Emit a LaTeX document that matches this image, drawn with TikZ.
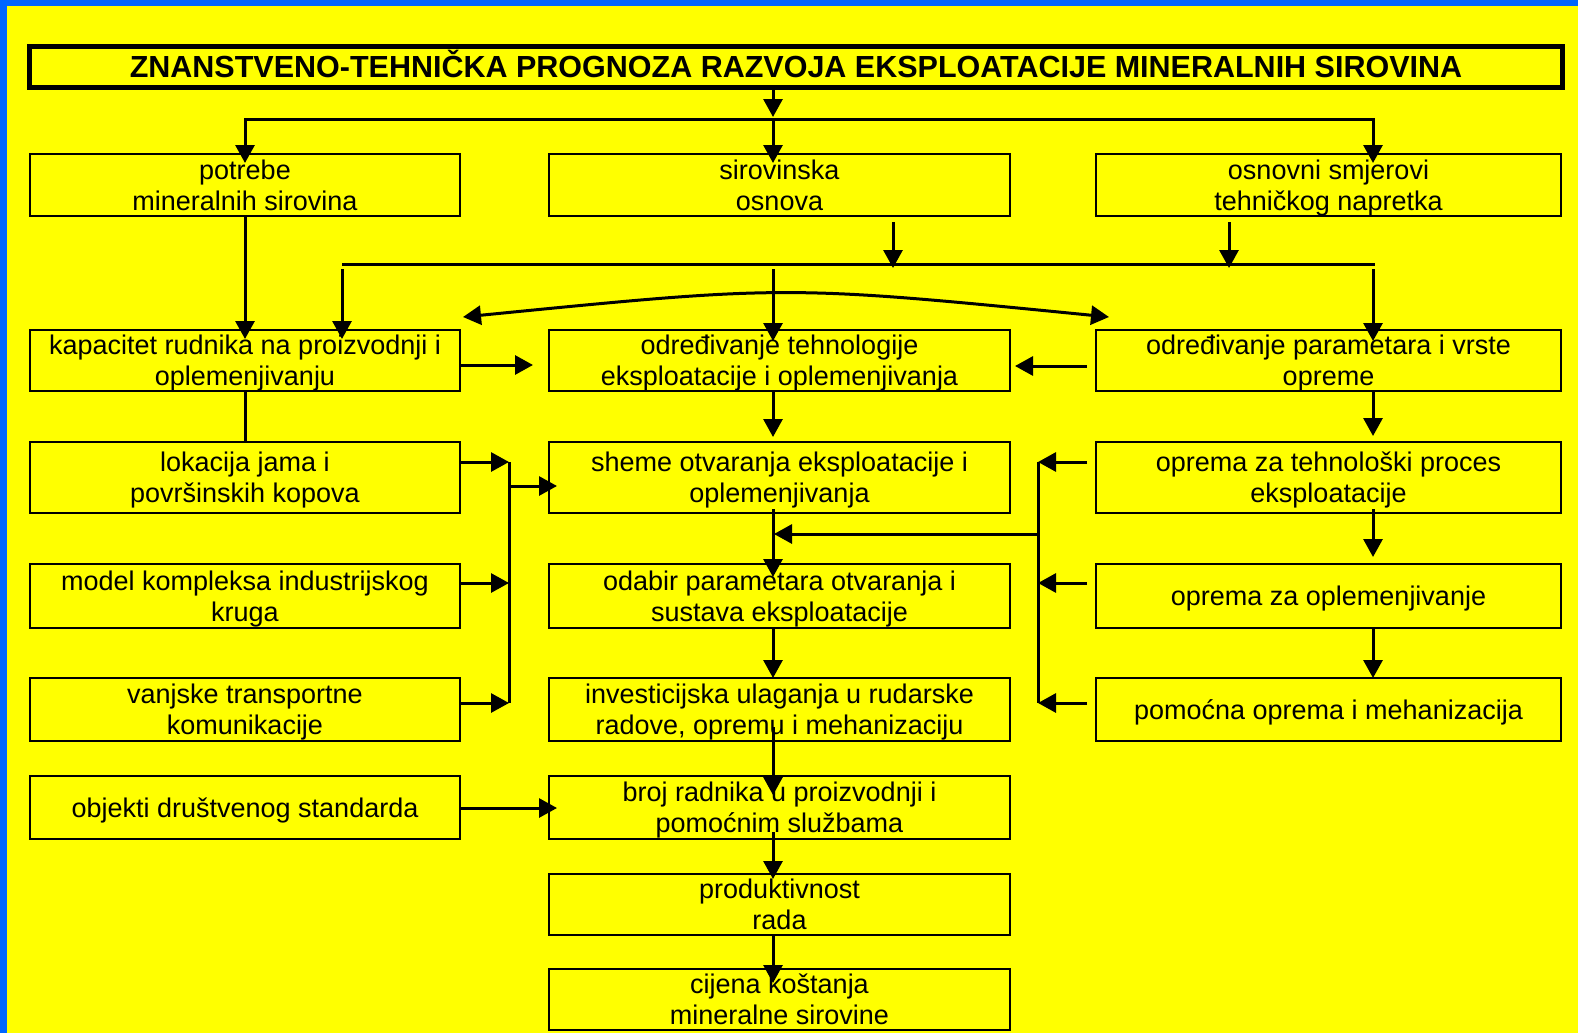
\documentclass[tikz,border=0pt]{standalone}
\usepackage{fontspec}
\setmainfont{Liberation Sans}
\usetikzlibrary{arrows.meta,calc}
\definecolor{bgyellow}{RGB}{255,255,0}
\definecolor{edgeblue}{RGB}{0,102,255}
\newcommand\boxfont{\fontsize{27}{31}\selectfont}
\newcommand\titlefont{\bfseries\fontsize{30.5}{36}\selectfont}
\begin{document}
\begin{tikzpicture}[x=1pt,y=-1pt,
  box/.style={draw, line width=2pt, align=center, inner sep=0pt, font=\boxfont, text depth=0pt},
  lcol/.style={box, minimum width=430pt},
  mcol/.style={box, minimum width=461pt},
  rcol/.style={box, minimum width=465pt},
  arr/.style={line width=3pt, -{Triangle[length=18pt,width=19pt]}},
  darr/.style={line width=3pt, {Triangle[length=18pt,width=19pt]}-{Triangle[length=18pt,width=19pt]}},
  ln/.style={line width=3pt}]
\useasboundingbox (0,0) rectangle (1578,1033);
\fill[bgyellow] (0,0) rectangle (1578,1033);
\fill[edgeblue] (0,0) rectangle (7,1033);
\fill[edgeblue] (0,0) rectangle (1578,6);

% title
\node[draw, line width=5pt, minimum width=1533pt, minimum height=41pt, inner sep=0pt, font=\titlefont, text height=21.8pt, text depth=0pt] (title) at (796,67) {ZNANSTVENO-TEHNIČKA PROGNOZA RAZVOJA EKSPLOATACIJE MINERALNIH SIROVINA};

% row 1
\node[lcol, minimum height=62pt] (pot) at (245,185) {potrebe\\mineralnih sirovina};
\node[mcol, minimum height=62pt] (sir) at (779.5,185) {sirovinska\\osnova};
\node[rcol, minimum height=62pt] (osn) at (1328.5,185) {osnovni smjerovi\\tehničkog napretka};
% row 2
\node[lcol, minimum height=61pt] (kap) at (245,360.5) {kapacitet rudnika na proizvodnji i\\oplemenjivanju};
\node[mcol, minimum height=61pt] (tehn) at (779.5,360.5) {određivanje tehnologije\\eksploatacije i oplemenjivanja};
\node[rcol, minimum height=61pt] (par) at (1328.5,360.5) {određivanje parametara i vrste\\opreme};
% row 3
\node[lcol, minimum height=71pt] (lok) at (245,477.5) {lokacija jama i\\površinskih kopova};
\node[mcol, minimum height=71pt] (she) at (779.5,477.5) {sheme otvaranja eksploatacije i\\oplemenjivanja};
\node[rcol, minimum height=71pt] (opt) at (1328.5,477.5) {oprema za tehnološki proces\\eksploatacije};
% row 4
\node[lcol, minimum height=64pt] (mod) at (245,596) {model kompleksa industrijskog\\kruga};
\node[mcol, minimum height=64pt] (oda) at (779.5,596) {odabir parametara otvaranja i\\sustava eksploatacije};
\node[rcol, minimum height=64pt] (opo) at (1328.5,596) {oprema za oplemenjivanje};
% row 5
\node[lcol, minimum height=63pt] (van) at (245,709.5) {vanjske transportne\\komunikacije};
\node[mcol, minimum height=63pt] (inv) at (779.5,709.5) {investicijska ulaganja u rudarske\\radove, opremu i mehanizaciju};
\node[rcol, minimum height=63pt] (pom) at (1328.5,709.5) {pomoćna oprema i mehanizacija};
% row 6-8
\node[lcol, minimum height=63pt] (obj) at (245,807.5) {objekti društvenog standarda};
\node[mcol, minimum height=63pt] (bro) at (779.5,807.5) {broj radnika u proizvodnji i\\pomoćnim službama};
\node[mcol, minimum height=61pt] (pro) at (779.5,904.5) {produktivnost\\rada};
\node[mcol, minimum height=61pt] (cij) at (779.5,999.5) {cijena koštanja\\mineralne sirovine};

% junction coordinates
\coordinate (t1) at (773,117);
\coordinate (hl) at (245,119);
\coordinate (hm) at (773,119);
\coordinate (hr) at (1373,119);
\coordinate (gl) at (342,264);
\coordinate (gr) at (1375,264);
\coordinate (lb1) at (509,462);
\coordinate (lb2) at (509,583);
\coordinate (lb3) at (509,703);
\coordinate (lbs) at (509,486);
\coordinate (rb1) at (1038,462);
\coordinate (rb2) at (1038,583);
\coordinate (rb3) at (1038,703);
\coordinate (rbs) at (1038,534);

% top distribution
\draw[arr] (title.south -| t1) -- (t1);
\draw[ln, line cap=rect] (hl) -- (hr);
\draw[arr] (hl) -- ([yshift=-10pt]pot.north);
\draw[arr] (hm) -- ([yshift=-10pt]sir.north -| hm);
\draw[arr] (hr) -- ([yshift=-10pt]osn.north -| hr);

% second distribution
\draw[arr] (pot.south) -- ([yshift=-10pt]kap.north);
\draw[ln] (gl) -- (gr);
\draw[arr] ([yshift=-5pt]sir.south -| 893,0) -- (893,268);
\draw[arr] ([yshift=-5pt]osn.south -| 1229,0) -- (1229,268);
\draw[arr] (342,269) -- ([yshift=-10pt]kap.north -| gl);
\draw[arr] (773,269) -- ([yshift=-12pt]tehn.north -| hm);
\draw[arr] (1373,269) -- ([yshift=-12pt]par.north -| hr);
\draw[darr] (463,317) .. controls (786,285) .. (1109,317);

% row 2 horizontals
\draw[arr] (kap.east |- 0,365) -- (533,365);
\draw[arr] (1087,366) -- (1015,366);
\draw[ln] (kap.south) -- (lok.north);

% middle chain
\draw[arr] (tehn.south -| hm) -- ([yshift=4pt]she.north -| hm);
\draw[arr] ([yshift=5pt]she.south -| hm) -- ([yshift=-14pt]oda.north -| hm);
\draw[arr] (oda.south -| hm) -- ([yshift=-1pt]inv.north -| hm);
\draw[arr] ([yshift=15pt]inv.south -| hm) -- ([yshift=-20pt]bro.north -| hm);
\draw[arr] ([yshift=8pt]bro.south -| hm) -- ([yshift=-6pt]pro.north -| hm);
\draw[arr] (pro.south -| hm) -- ([yshift=-15pt]cij.north -| hm);

% right chain
\draw[arr] (par.south -| hr) -- ([yshift=5pt]opt.north -| hr);
\draw[arr] ([yshift=5pt]opt.south -| hr) -- ([yshift=6pt]opo.north -| hr);
\draw[arr] (opo.south -| hr) -- ([yshift=-1pt]pom.north -| hr);

% left bracket
\draw[arr] (lok.east |- lb1) -- (lb1);
\draw[arr] (mod.east |- lb2) -- (lb2);
\draw[arr] (van.east |- lb3) -- (lb3);
\draw[ln] (lb1) -- (lb3);
\draw[arr] (lbs) -- ([xshift=9pt]she.west |- lbs);
\draw[arr] (obj.east |- 0,808) -- ([xshift=9pt]bro.west |- 0,808);

% right bracket
\draw[arr] ([xshift=-8pt]opt.west |- rb1) -- (rb1);
\draw[arr] ([xshift=-8pt]opo.west |- rb2) -- (rb2);
\draw[arr] ([xshift=-8pt]pom.west |- rb3) -- (rb3);
\draw[ln] (rb1) -- (rb3);
\draw[arr] (rbs) -- (774,534);
\end{tikzpicture}
\end{document}
